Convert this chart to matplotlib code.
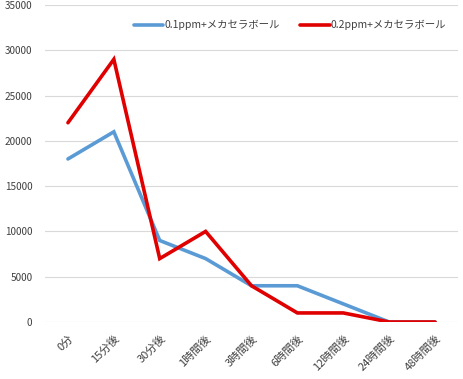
import matplotlib
matplotlib.use("Agg")
import matplotlib.pyplot as plt

plt.rcParams['font.family'] = ['Noto Sans CJK JP', 'DejaVu Sans']

categories = ["0分", "15分後", "30分後", "1時間後", "3時間後", "6時間後", "12時間後", "24時間後", "48時間後"]
series_01 = [18000, 21000, 9000, 7000, 4000, 4000, 2000, 0, 0]
series_02 = [22000, 29000, 7000, 10000, 4000, 1000, 1000, 0, 0]
labels = ["0.1ppm+メカセラボール", "0.2ppm+メカセラボール"]
yticks = [0, 5000, 10000, 15000, 20000, 25000, 30000, 35000]

fig = plt.figure(figsize=(4.64, 3.79), dpi=100)
ax = fig.add_axes([45/464, 1 - 322/379, (458-45)/464, (322-5)/379])

x = list(range(len(categories)))
ax.plot(x, series_01, color="#5b9bd5", lw=2.6, label=labels[0], solid_capstyle="round", solid_joinstyle="miter")
ax.plot(x, series_02, color="#e00000", lw=2.6, label=labels[1], solid_capstyle="round", solid_joinstyle="miter")

ax.set_xlim(-0.5, len(categories) - 0.5)
ax.set_ylim(0, 35000)
ax.set_yticks(yticks)
ax.set_yticklabels([str(v) for v in yticks], fontsize=7.2, color="#404040")
ax.set_xticks(x)
ax.set_xticklabels(categories, rotation=45, ha="right", rotation_mode="anchor", fontsize=8, color="#404040")
ax.tick_params(axis="y", length=0, pad=9)
ax.tick_params(axis="x", length=0, pad=8)
ax.grid(axis="y", color="#d9d9d9", lw=0.8)
ax.set_axisbelow(True)
for s in ax.spines.values():
    s.set_visible(False)

leg = ax.legend(loc="center left", bbox_to_anchor=((134-45)/413, (322-25)/317), ncol=2, frameon=False,
                fontsize=7.5, handlelength=2.8, columnspacing=2.0, handletextpad=0.1, borderpad=0, borderaxespad=0)
for t in leg.get_texts():
    t.set_color("#404040")

fig.savefig("out.png", dpi=100)
